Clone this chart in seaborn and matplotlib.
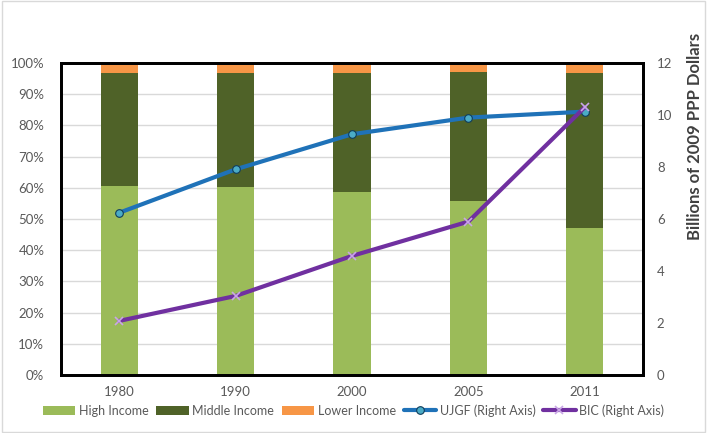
import matplotlib
matplotlib.use("Agg")
import matplotlib.pyplot as plt
import seaborn as sns
import numpy as np
import pandas as pd
from matplotlib.patches import Rectangle
from matplotlib.ticker import FuncFormatter

years = ["1980", "1990", "2000", "2005", "2011"]
high_income = [60.6, 60.4, 58.8, 55.8, 47.1]
middle_income = [36.1, 36.4, 38.0, 41.3, 49.8]
lower_income = [3.3, 3.2, 3.2, 2.9, 3.1]
ujgf = [6.24, 7.91, 9.26, 9.90, 10.13]
bic = [2.08, 3.04, 4.58, 5.90, 10.30]

sns.set_theme(style="white")
plt.rcParams['font.family'] = ['Lato', 'DejaVu Sans']

c_high = "#9BBB59"
c_mid = "#4F6228"
c_low = "#F79646"
c_ujgf = "#1F72B8"
c_bic = "#7030A0"
txt = "#595959"

df = pd.DataFrame({"year": years, "high": high_income, "mid": middle_income, "low": lower_income})
df["top_mid"] = df["high"] + df["mid"]
df["total"] = df["top_mid"] + df["low"]

fig = plt.figure(figsize=(7.07, 4.33), dpi=100)
ax = fig.add_axes([0.0863, 0.134, 0.8232, 0.7205])

ax.set_axisbelow(True)
ax.yaxis.grid(True, color="#D9D9D9", linewidth=1)
kw = dict(width=0.32, ax=ax, saturation=1, linewidth=0, edgecolor="none")
sns.barplot(data=df, x="year", y="total", color=c_low, label="Lower Income", **kw)
sns.barplot(data=df, x="year", y="top_mid", color=c_mid, label="Middle Income", **kw)
sns.barplot(data=df, x="year", y="high", color=c_high, label="High Income", **kw)
ax.set_ylim(0, 100)
ax.set_xlim(-0.5, len(years) - 0.5)
ax.set_yticks(np.arange(0, 101, 10))
ax.yaxis.set_major_formatter(FuncFormatter(lambda v, p: f"{int(v)}%"))
ax.set_xlabel("")
ax.set_ylabel("")
ax.tick_params(axis="both", length=0, labelsize=9.5, labelcolor=txt)
ax.tick_params(axis="y", pad=12)
ax.tick_params(axis="x", pad=8)
for s in ax.spines.values():
    s.set_color("black")
    s.set_linewidth(2)
if ax.legend_ is not None:
    ax.legend_.remove()

ax2 = ax.twinx()
xpos = np.arange(len(years))
lines = pd.DataFrame({"x": xpos, "ujgf": ujgf, "bic": bic})
sns.lineplot(data=lines, x="x", y="ujgf", ax=ax2, color=c_ujgf, linewidth=3,
             marker="o", markersize=5.5, markerfacecolor="#4BACC6", markeredgecolor="#0F3D5C",
             markeredgewidth=0.8, label="UJGF (Right Axis)")
sns.lineplot(data=lines, x="x", y="bic", ax=ax2, color=c_bic, linewidth=3,
             marker="x", markersize=6, markeredgecolor="#C9A6E6", markeredgewidth=1.2,
             label="BIC (Right Axis)")
ax2.set_ylim(0, 12)
ax2.set_yticks(np.arange(0, 13, 2))
ax2.set_xlim(-0.5, len(years) - 0.5)
ax2.set_xlabel("")
ax2.set_ylabel("Billions of 2009 PPP Dollars", fontsize=12, fontweight="bold", color="#404040", labelpad=10)
ax2.yaxis.set_label_coords(1.075, 0.765)
ax2.tick_params(axis="y", length=0, labelsize=9.5, labelcolor=txt, pad=10)
for s in ax2.spines.values():
    s.set_color("black")
    s.set_linewidth(2)
ax2.legend_.remove()

h1, l1 = ax.get_legend_handles_labels()
h2, l2 = ax2.get_legend_handles_labels()
hd = dict(zip(l1 + l2, h1 + h2))
order = ["High Income", "Middle Income", "Lower Income", "UJGF (Right Axis)", "BIC (Right Axis)"]
leg = fig.legend([hd[k] for k in order], order, loc="center", bbox_to_anchor=(0.5, 0.052),
                 ncol=5, frameon=False, fontsize=9, handlelength=2.6, columnspacing=0.6,
                 handletextpad=0.3, labelcolor=txt)

fig.patches.append(Rectangle((0.003, 0.003), 0.994, 0.994, transform=fig.transFigure,
                             fill=False, edgecolor="#D9D9D9", linewidth=1))

fig.savefig("out.png", dpi=100)
